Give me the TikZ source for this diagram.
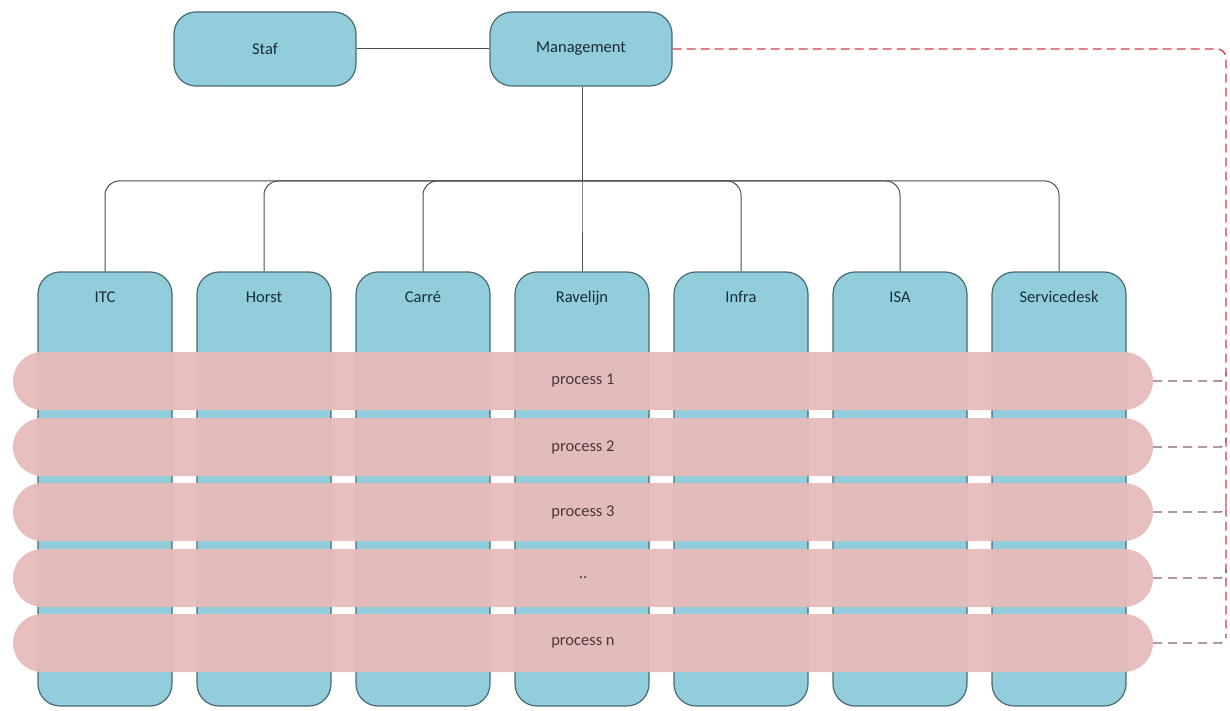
\documentclass[tikz,border=0pt]{standalone}
\usepackage{fontspec}
\setmainfont{Carlito}
\begin{document}
\definecolor{unitblue}{RGB}{146,205,220}
\definecolor{unitline}{RGB}{75,105,115}
\definecolor{procpink}{RGB}{230,188,186}
\definecolor{txt}{RGB}{25,45,55}
\definecolor{proctxt}{RGB}{75,55,55}
\definecolor{linkred}{RGB}{205,65,75}
\definecolor{linkgray}{RGB}{140,100,100}
\begin{tikzpicture}[x=1pt,y=-1pt,
  font=\fontsize{16.5}{19}\selectfont,
  topbox/.style={draw=unitline,line width=1.2pt,fill=unitblue,rounded corners=22pt,
    minimum width=182pt,minimum height=74pt,text=txt,inner sep=0pt},
  unitcol/.style={draw=unitline,line width=1.2pt,fill=unitblue,rounded corners=22pt,
    minimum width=134pt,minimum height=434pt,inner sep=0pt},
  unitname/.style={text=txt,inner sep=0pt,anchor=base},
  procband/.style={fill=procpink,fill opacity=0.95,text opacity=1,rounded corners=29pt,
    minimum width=1140pt,minimum height=58pt,text=proctxt,inner sep=0pt},
  orgline/.style={draw=black!70,line width=1pt},
  busline/.style={orgline,rounded corners=14pt},
  processlink/.style={draw=linkred,line width=1.4pt,dash pattern=on 9pt off 5pt,rounded corners=9pt},
  bandlink/.style={draw=linkgray,line width=1.4pt,dash pattern=on 9pt off 6pt,rounded corners=6pt}
]
\useasboundingbox (0,0) rectangle (1230,711);

% top level
\node[topbox] (staf) at (265,49) {Staf};
\node[topbox] (mgmt) at (581,49) {Management};
\draw[orgline] (staf.east) -- (mgmt.west);

% units, names on a common baseline
\foreach \nm/\lbl [count=\i from 0] in {itc/ITC,horst/Horst,carre/Carré,ravelijn/Ravelijn,infra/Infra,isa/ISA,sdesk/Servicedesk}{
  \node[unitcol] (\nm) at (105+159*\i,489) {};
  \node[unitname] (\nm-lbl) at (105+159*\i,302) {\lbl};
}

% hierarchy bus
\coordinate (bus) at (582,181);
\draw[orgline] (mgmt.south -| bus) -- (bus);
\foreach \nm in {itc,horst,carre,ravelijn,infra,isa,sdesk}{
  \draw[busline] (bus) -| (\nm.north);
}

% processes across the units
\node[procband] (p1) at (583,381) {process 1};
\node[procband] (p2) at (583,447) {process 2};
\node[procband] (p3) at (583,512) {process 3};
\node[procband] (p4) at (583,578) {..};
\node[procband] (pn) at (583,643) {process n};

% management steering of the processes
\coordinate (vbot) at (1226,634);
\draw[processlink] (mgmt.east) -| (vbot);
\foreach \p/\y in {p1/372,p2/438,p3/503,p4/569,pn/634}{
  \coordinate (j-\p) at (1226,\y);
  \draw[bandlink] (\p.east) -| (j-\p);
}
\end{tikzpicture}
\end{document}
